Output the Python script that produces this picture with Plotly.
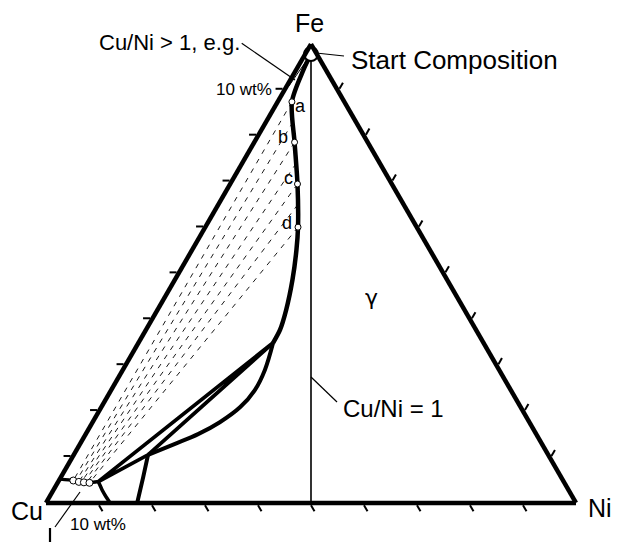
import plotly.graph_objects as go

# ---- Fe-Cu-Ni isothermal section (compositions in wt%) ----
# gamma boundary from the start composition down to the three-phase corner
bnd_fe = [97.8, 94.3, 87.4, 78.6, 69.5, 60.1, 55.1, 48.6, 42.0, 37.7, 34.9]
bnd_cu = [1.1, 4.3, 9.9, 13.8, 17.8, 22.4, 25.2, 29.2, 33.7, 37.0, 39.7]
bnd_ni = [1.1, 1.4, 2.7, 7.6, 12.7, 17.5, 19.7, 22.2, 24.3, 25.3, 25.4]

# miscibility-gap arc between the two gamma corners of the triangle
arc_fe = [34.9, 29.0, 24.6, 20.9, 17.6, 15.0, 12.9, 10.5]
arc_cu = [39.7, 44.2, 48.3, 52.9, 58.4, 63.8, 69.2, 75.5]
arc_ni = [25.4, 26.8, 27.1, 26.2, 24.0, 21.2, 17.9, 14.0]

# Cu-rich gamma boundary running down to the Cu-Ni edge
br_fe = [10.5, 5.7, 0.0]
br_cu = [75.5, 78.8, 82.8]
br_ni = [14.0, 15.5, 17.2]

# three-phase triangle: liquid, Fe-rich gamma, Cu-rich gamma
tri_fe = [4.6, 34.9, 10.5, 4.6]
tri_cu = [87.9, 39.7, 75.5, 87.9]
tri_ni = [7.5, 25.4, 14.0, 7.5]

# Cu-rich liquid boundary
liq_fe = [5.2, 4.9, 4.6, 4.5, 4.4, 4.6, 2.8, 1.3, 0.0]
liq_cu = [94.8, 92.4, 91.5, 90.6, 89.6, 87.9, 88.0, 88.0, 87.9]
liq_ni = [0.0, 2.7, 3.9, 4.9, 6.0, 7.5, 9.2, 10.7, 12.1]

# dashed tie lines: gamma end / liquid end
tl_g_fe = [87.4, 83.0, 78.6, 74.0, 69.5, 65.0, 60.1]
tl_g_cu = [9.9, 11.9, 13.8, 15.8, 17.8, 20.0, 22.4]
tl_g_ni = [2.7, 5.1, 7.6, 10.2, 12.7, 15.0, 17.5]
tl_l_fe = [4.9, 4.7, 4.6, 4.55, 4.5, 4.45, 4.4]
tl_l_cu = [92.4, 92.0, 91.5, 91.05, 90.6, 90.1, 89.6]
tl_l_ni = [2.7, 3.3, 3.9, 4.4, 4.9, 5.45, 6.0]

# marked gamma compositions a-d and their liquid partners
pt_labels = ["a", "b", "c", "d"]
pt_fe = [87.4, 78.6, 69.5, 60.1]
pt_cu = [9.9, 13.8, 17.8, 22.4]
pt_ni = [2.7, 7.6, 12.7, 17.5]
lq_fe = [4.9, 4.6, 4.5, 4.4]
lq_cu = [92.4, 91.5, 90.6, 89.6]
lq_ni = [2.7, 3.9, 4.9, 6.0]

# start composition, a Cu/Ni > 1 path and the Cu/Ni = 1 section
start_fe, start_cu, start_ni = [97.8], [1.1], [1.1]
gt_fe = [97.8, 90.8]
gt_cu = [1.1, 8.8]
gt_ni = [1.1, 0.4]
eq_fe = [100.0, 0.0]
eq_cu = [0.0, 50.0]
eq_ni = [0.0, 50.0]

tick_vals = [10, 20, 30, 40, 50, 60, 70, 80, 90]

W, H = 618, 542
FONT = "Liberation Sans, Arial, sans-serif"

fig = go.Figure()


def tern(fe, cu, ni, **kw):
    fig.add_trace(go.Scatterternary(a=fe, b=cu, c=ni, cliponaxis=False,
                                    showlegend=False, hoverinfo="skip", **kw))


tern(eq_fe, eq_cu, eq_ni, mode="lines", line=dict(color="black", width=1.6))
for i in range(len(tl_g_fe)):
    tern([tl_g_fe[i], tl_l_fe[i]], [tl_g_cu[i], tl_l_cu[i]], [tl_g_ni[i], tl_l_ni[i]],
         mode="lines", line=dict(color="black", width=0.9, dash="5px,6px"))
tern(gt_fe, gt_cu, gt_ni, mode="lines", line=dict(color="black", width=1))
tern(bnd_fe, bnd_cu, bnd_ni, mode="lines",
     line=dict(color="black", width=4.5, shape="spline", smoothing=0.8))
tern(arc_fe, arc_cu, arc_ni, mode="lines",
     line=dict(color="black", width=4, shape="spline", smoothing=1.0))
tern(br_fe, br_cu, br_ni, mode="lines",
     line=dict(color="black", width=4, shape="spline", smoothing=0.6))
tern(tri_fe, tri_cu, tri_ni, mode="lines", line=dict(color="black", width=3.8))
tern(liq_fe, liq_cu, liq_ni, mode="lines",
     line=dict(color="black", width=3.5, shape="spline", smoothing=0.6))
tern(pt_fe, pt_cu, pt_ni, mode="markers",
     marker=dict(size=6, color="white", line=dict(color="black", width=1)))
tern(lq_fe, lq_cu, lq_ni, mode="markers",
     marker=dict(size=7, color="white", line=dict(color="black", width=1)))
tern(start_fe, start_cu, start_ni, mode="markers",
     marker=dict(size=14, color="white", line=dict(color="black", width=2)))

axis_style = dict(showline=True, linewidth=4.5, linecolor="black",
                  showgrid=False, ticks="outside", ticklen=7, tickwidth=1.5,
                  tickcolor="black", tickmode="array", tickvals=tick_vals,
                  showticklabels=False, title=dict(text=""))

fig.update_layout(
    width=W, height=H,
    margin=dict(l=0, r=0, t=0, b=0),
    paper_bgcolor="white",
    ternary=dict(
        sum=100,
        bgcolor="white",
        domain=dict(x=[0.07443, 0.93204], y=[0.04539, 0.94539]),
        aaxis=axis_style, baxis=axis_style, caxis=axis_style,
    ),
)


def px(x, y):
    return x / W, 1 - y / H


def label(text, x, y, size, xanchor="center", family=FONT):
    xp, yp = px(x, y)
    fig.add_annotation(x=xp, y=yp, xref="paper", yref="paper", text=text,
                       showarrow=False, xanchor=xanchor, yanchor="middle",
                       font=dict(family=family, size=size, color="black"))


def leader(x0, y0, x1, y1, w=1.2):
    a0, b0 = px(x0, y0)
    a1, b1 = px(x1, y1)
    fig.add_shape(type="line", xref="paper", yref="paper", x0=a0, y0=b0,
                  x1=a1, y1=b1, line=dict(color="black", width=w))


label("Fe", 309, 23, 25)
label("Cu", 27, 511, 25)
label("Ni", 600, 508, 25)
label("Start Composition", 349, 60, 26, xanchor="left")
label("Cu/Ni > 1, e.g.", 169, 42, 22)
label("10 wt%", 244, 90, 17)
label("10 wt%", 98, 524, 17)
label("Cu/Ni = 1", 341, 408, 24, xanchor="left")
label("γ", 371, 297, 22, family="DejaVu Sans, sans-serif")
for t, (x, y) in zip(pt_labels, [(300, 106), (283, 137), (288, 178), (287, 223)]):
    label(t, x, y, 18)

leader(316, 53, 344, 56)
leader(241.7, 43.3, 295, 80)
leader(311, 377, 337, 402)
leader(55, 527, 80, 492)
leader(50, 528, 50, 542, w=2.2)

fig.write_html("out.html")
